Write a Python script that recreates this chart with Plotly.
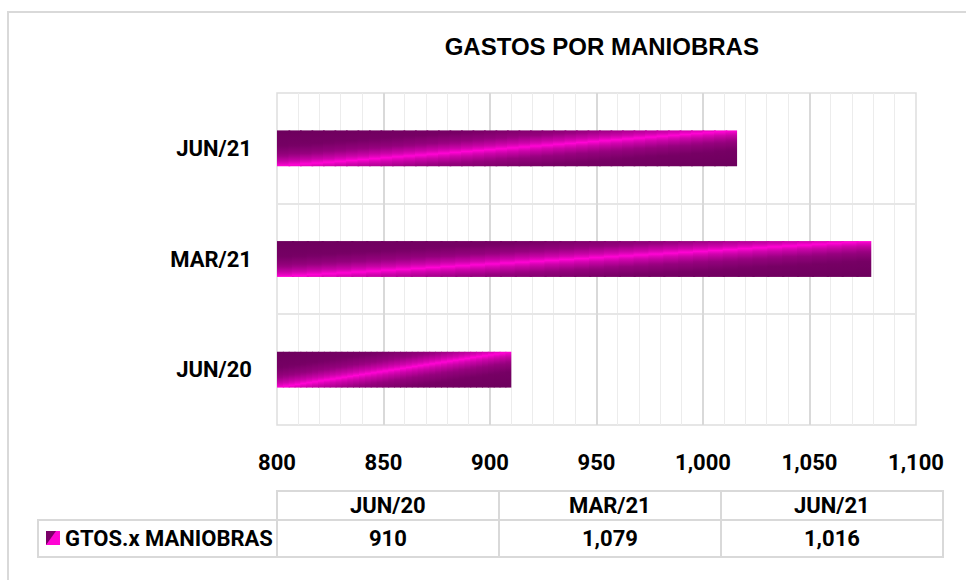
import plotly.graph_objects as go

# ---- data ----
categories = ["JUN/20", "MAR/21", "JUN/21"]
values = [910, 1079, 1016]
series_name = "GTOS.x MANIOBRAS"
title_text = "GASTOS POR MANIOBRAS"
x_min, x_max, x_step = 800, 1100, 50

# ---- layout geometry (pixels) ----
W, H = 966, 580
L, R, T, B = 277, 50, 93, 155
PW, PH = W - L - R, H - T - B


def px(x):
    return (x - L) / PW


def py(y):
    return (H - B - y) / PH


DARK = (0x6c, 0x00, 0x5c)
BRIGHT = (0xff, 0x04, 0xd4)
profile = [(0.0, 0.0), (0.1, 0.32), (0.3, 0.72), (0.55, 0.93), (1.0, 1.0)]


def shade(d):
    # d: distance from bright streak (0..1) -> colour
    for (a, fa), (b, fb) in zip(profile[:-1], profile[1:]):
        if a <= d <= b:
            f = fa + (fb - fa) * (d - a) / (b - a)
            break
    else:
        f = 1.0
    c = [round(BRIGHT[k] + (DARK[k] - BRIGHT[k]) * f) for k in range(3)]
    return f"rgb({c[0]},{c[1]},{c[2]})"


def colorscale_for(t, n=14):
    pts = sorted(set([i / n for i in range(n + 1)] + [t]))
    return [[p, shade(abs(p - t))] for p in pts]


fig = go.Figure()

half = 0.162
NSEG = 40
for i, (cat, v) in enumerate(zip(categories, values)):
    for k in range(NSEG):
        xa = x_min + (v - x_min) * k / NSEG
        xb = x_min + (v - x_min) * min(k + 1.15, NSEG) / NSEG
        t = (k + 0.5) / NSEG
        fig.add_trace(go.Scatter(
            x=[xa, xb, xb, xa, xa],
            y=[i - half, i - half, i + half, i + half, i - half],
            mode="lines", line=dict(width=0), fill="toself",
            fillgradient=dict(type="vertical", colorscale=colorscale_for(t)),
            hoverinfo="skip", showlegend=False,
        ))

calib = "Liberation Sans Narrow, Arial Narrow, Roboto, sans-serif"

fig.update_layout(
    width=W, height=H,
    margin=dict(l=L, r=R, t=T, b=B),
    paper_bgcolor="white", plot_bgcolor="white",
    showlegend=False,
    title=dict(text=title_text, x=491 / W, xref="paper", xanchor="center",
               y=1 - 47 / H, yanchor="middle",
               font=dict(family="Liberation Sans, Arial, sans-serif", size=24,
                         color="black", weight="bold")),
    xaxis=dict(
        range=[x_min, x_max], tickmode="linear", tick0=x_min, dtick=x_step,
        tickformat=",d", showgrid=True, gridcolor="#d9d9d9", gridwidth=1.5,
        zeroline=False, showline=False, ticks="",
        ticklabelstandoff=22,
        tickfont=dict(family=calib, size=22, color="black", weight="bold"),
        minor=dict(dtick=10, tick0=x_min, showgrid=True, gridcolor="#ececec", gridwidth=1),
        fixedrange=True,
    ),
    yaxis=dict(
        range=[-0.5, len(categories) - 0.5], tickmode="array",
        tickvals=list(range(len(categories))), ticktext=categories,
        showgrid=False, zeroline=False, showline=False, ticks="",
        ticklabelstandoff=24,
        tickfont=dict(family=calib, size=22, color="black", weight="bold"),
        minor=dict(tickvals=[j - 0.5 for j in range(len(categories) + 1)],
                   showgrid=True, gridcolor="#e6e6e6", gridwidth=1.5),
        fixedrange=True,
    ),
)

shapes = []
line_col = "#d9d9d9"
# outer chart border
shapes.append(dict(type="rect", xref="paper", yref="paper",
                   x0=px(8), x1=px(W + 20), y0=py(H + 20), y1=py(12),
                   line=dict(color=line_col, width=2), fillcolor="rgba(0,0,0,0)", layer="below"))
# plot-area frame
shapes.append(dict(type="rect", xref="paper", yref="paper", x0=0, x1=1, y0=0, y1=1,
                   line=dict(color="#dedede", width=1.5), layer="below"))

# data table
tbl_l, tbl_r = 277, 943
hdr_t, row_t, row_b = 491, 520, 557
lbl_l = 38
ncol = len(categories)
cw = (tbl_r - tbl_l) / ncol
for j in range(ncol):
    x0 = tbl_l + j * cw
    x1 = x0 + cw
    for (y0, y1) in [(hdr_t, row_t), (row_t, row_b)]:
        shapes.append(dict(type="rect", xref="paper", yref="paper",
                           x0=px(x0), x1=px(x1), y0=py(y1), y1=py(y0),
                           line=dict(color=line_col, width=2)))
shapes.append(dict(type="rect", xref="paper", yref="paper",
                   x0=px(lbl_l), x1=px(tbl_l), y0=py(row_b), y1=py(row_t),
                   line=dict(color=line_col, width=2)))
# legend key (gradient-like swatch)
kx0, kx1, ky0, ky1 = 46, 60, 531, 545
shapes.append(dict(type="rect", xref="paper", yref="paper",
                   x0=px(kx0), x1=px(kx1), y0=py(ky1), y1=py(ky0),
                   line=dict(width=0), fillcolor="#ff04d4"))
shapes.append(dict(type="path", xref="paper", yref="paper",
                   path=f"M {px(kx0)},{py(ky0)} L {px(kx1 - 4)},{py(ky0)} L {px(kx0)},{py(ky1)} Z",
                   line=dict(width=0), fillcolor="#7a0068"))
fig.update_layout(shapes=shapes)

ann = []
tfont = dict(family=calib, size=22, color="black", weight="bold")
for j, (cat, v) in enumerate(zip(categories, values)):
    cx = tbl_l + (j + 0.5) * cw
    ann.append(dict(xref="paper", yref="paper", x=px(cx), y=py((hdr_t + row_t) / 2),
                    text=cat, showarrow=False, xanchor="center", yanchor="middle", font=tfont))
    ann.append(dict(xref="paper", yref="paper", x=px(cx), y=py((row_t + row_b) / 2),
                    text=f"{v:,}", showarrow=False, xanchor="center", yanchor="middle", font=tfont))
ann.append(dict(xref="paper", yref="paper", x=px(63), y=py((row_t + row_b) / 2),
                text=series_name, showarrow=False, xanchor="left", yanchor="middle", font=tfont))
fig.update_layout(annotations=ann)

fig.write_html("out.html", config={"displayModeBar": False},
               post_script="document.body.style.margin='0px';")
